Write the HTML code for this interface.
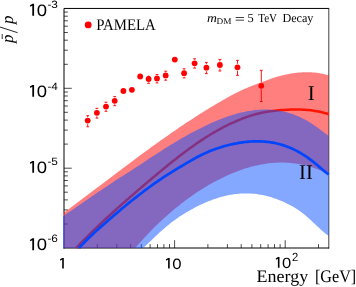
<!DOCTYPE html>
<html><head><meta charset="utf-8"><title>pbar/p</title>
<style>
html,body{margin:0;padding:0;background:#fff;}
body{width:356px;height:287px;overflow:hidden;font-family:"Liberation Sans",sans-serif;}
svg{display:block;will-change:transform;opacity:0.999;}
text{fill:#000;text-rendering:geometricPrecision;}
.sans{font-family:"Liberation Sans",sans-serif;}
.serif{font-family:"Liberation Serif",serif;}
</style></head><body>
<svg width="356" height="287" viewBox="0 0 356 287">
<rect x="0" y="0" width="356" height="287" fill="#fff"/>
<!-- frame -->
<path d="M64.00,248.50V8.45H328.80M63.50,248.00H329.10" fill="none" stroke="#000" stroke-width="1.0"/>
<path d="M328.80,7.95V248.50" fill="none" stroke="#000" stroke-width="0.75"/>
<path d="M97.3,248.0v-3.9M116.8,248.0v-3.9M130.6,248.0v-3.9M141.3,248.0v-3.9M150.1,248.0v-3.9M157.5,248.0v-3.9M163.9,248.0v-3.9M169.5,248.0v-3.9M174.6,248.0v-7.8M207.9,248.0v-3.9M227.4,248.0v-3.9M241.2,248.0v-3.9M251.9,248.0v-3.9M260.7,248.0v-3.9M268.1,248.0v-3.9M274.5,248.0v-3.9M280.1,248.0v-3.9M285.2,248.0v-7.8M318.5,248.0v-3.9M64.0,224.0h3.9M64.0,209.9h3.9M64.0,199.9h3.9M64.0,192.2h3.9M64.0,185.9h3.9M64.0,180.5h3.9M64.0,175.9h3.9M64.0,171.8h3.9M64.0,168.2h7.8M64.0,144.1h3.9M64.0,130.1h3.9M64.0,120.1h3.9M64.0,112.3h3.9M64.0,106.0h3.9M64.0,100.7h3.9M64.0,96.0h3.9M64.0,92.0h3.9M64.0,88.3h7.8M64.0,64.3h3.9M64.0,50.2h3.9M64.0,40.2h3.9M64.0,32.5h3.9M64.0,26.2h3.9M64.0,20.8h3.9M64.0,16.2h3.9M64.0,12.1h3.9" stroke="#000" stroke-width="0.7" fill="none"/>
<!-- bands -->
<path d="M63.5,212.8 L65.5,211.4 L67.5,209.9 L69.5,208.4 L71.5,206.9 L73.5,205.4 L75.5,203.9 L77.5,202.4 L79.5,201.0 L81.4,199.5 L83.4,198.0 L85.4,196.5 L87.4,195.0 L89.4,193.5 L91.4,192.0 L93.4,190.4 L95.4,188.9 L97.4,187.4 L99.4,185.9 L101.4,184.4 L103.4,182.9 L105.4,181.4 L107.4,179.9 L109.4,178.4 L111.4,176.9 L113.3,175.4 L115.3,173.9 L117.3,172.4 L119.3,170.9 L121.3,169.4 L123.3,167.9 L125.3,166.4 L127.3,164.9 L129.3,163.4 L131.3,161.9 L133.3,160.4 L135.3,159.0 L137.3,157.5 L139.3,156.0 L141.3,154.5 L143.3,153.1 L145.3,151.6 L147.2,150.2 L149.2,148.7 L151.2,147.3 L153.2,145.8 L155.2,144.4 L157.2,143.0 L159.2,141.5 L161.2,140.1 L163.2,138.7 L165.2,137.3 L167.2,135.9 L169.2,134.5 L171.2,133.1 L173.2,131.7 L175.2,130.4 L177.2,129.0 L179.2,127.6 L181.1,126.3 L183.1,124.9 L185.1,123.6 L187.1,122.3 L189.1,121.0 L191.1,119.7 L193.1,118.4 L195.1,117.1 L197.1,115.8 L199.1,114.5 L201.1,113.3 L203.1,112.0 L205.1,110.8 L207.1,109.6 L209.1,108.3 L211.1,107.1 L213.0,105.9 L215.0,104.8 L217.0,103.6 L219.0,102.4 L221.0,101.2 L223.0,100.1 L225.0,98.9 L227.0,97.8 L229.0,96.7 L231.0,95.6 L233.0,94.5 L235.0,93.4 L237.0,92.4 L239.0,91.4 L241.0,90.5 L243.0,89.6 L245.0,88.7 L246.9,87.9 L248.9,87.1 L250.9,86.3 L252.9,85.6 L254.9,84.8 L256.9,84.1 L258.9,83.3 L260.9,82.6 L262.9,81.8 L264.9,81.1 L266.9,80.3 L268.9,79.5 L270.9,78.8 L272.9,78.0 L274.9,77.4 L276.9,76.8 L278.9,76.2 L280.8,75.7 L282.8,75.2 L284.8,74.8 L286.8,74.4 L288.8,74.0 L290.8,73.6 L292.8,73.3 L294.8,73.1 L296.8,72.8 L298.8,72.6 L300.8,72.5 L302.8,72.3 L304.8,72.3 L306.8,72.2 L308.8,72.3 L310.8,72.3 L312.7,72.4 L314.7,72.6 L316.7,72.8 L318.7,73.1 L320.7,73.4 L322.7,73.8 L324.7,74.3 L326.7,74.8 L328.7,75.3 L328.7,174.4 L328.7,174.4 L326.7,173.4 L324.7,172.4 L322.7,171.5 L320.7,170.6 L318.7,169.8 L316.7,169.0 L314.7,168.3 L312.7,167.6 L310.7,167.0 L308.8,166.4 L306.8,165.8 L304.8,165.3 L302.8,164.8 L300.8,164.4 L298.8,164.0 L296.8,163.7 L294.8,163.4 L292.8,163.2 L290.8,163.0 L288.8,162.8 L286.8,162.7 L284.8,162.6 L282.8,162.6 L280.8,162.5 L278.8,162.6 L276.8,162.7 L274.8,162.8 L272.8,162.9 L270.8,163.1 L268.9,163.3 L266.9,163.6 L264.9,163.9 L262.9,164.2 L260.9,164.5 L258.9,164.9 L256.9,165.4 L254.9,165.8 L252.9,166.3 L250.9,166.8 L248.9,167.4 L246.9,168.0 L244.9,168.6 L242.9,169.3 L240.9,169.9 L238.9,170.7 L236.9,171.4 L234.9,172.2 L232.9,173.0 L231.0,173.8 L229.0,174.7 L227.0,175.5 L225.0,176.5 L223.0,177.4 L221.0,178.4 L219.0,179.4 L217.0,180.4 L215.0,181.5 L213.0,182.6 L211.0,183.7 L209.0,184.8 L207.0,186.0 L205.0,187.2 L203.0,188.4 L201.0,189.7 L199.0,191.0 L197.0,192.3 L195.0,193.6 L193.1,195.0 L191.1,196.4 L189.1,197.8 L187.1,199.3 L185.1,200.8 L183.1,202.3 L181.1,203.8 L179.1,205.4 L177.1,207.0 L175.1,208.6 L173.1,210.3 L171.1,211.9 L169.1,213.7 L167.1,215.4 L165.1,217.2 L163.1,219.0 L161.1,220.9 L159.1,222.8 L157.1,224.7 L155.1,226.6 L153.2,228.6 L151.2,230.6 L149.2,232.7 L147.2,234.8 L145.2,236.9 L143.2,239.0 L141.2,241.2 L139.2,243.5 L137.2,245.7 L135.2,248.0 L135.2,248.0 L63.5,248.0Z" fill="#ff0000" fill-opacity="0.5"/>
<path d="M76.3,247.9 L78.3,245.8 L80.3,243.7 L82.3,241.7 L84.3,239.6 L86.3,237.6 L88.3,235.6 L90.3,233.6 L92.3,231.7 L94.3,229.7 L96.3,227.8 L98.3,225.9 L100.3,224.0 L102.3,222.1 L104.3,220.2 L106.3,218.3 L108.4,216.5 L110.4,214.6 L112.4,212.8 L114.4,211.0 L116.4,209.2 L118.4,207.4 L120.4,205.6 L122.4,203.8 L124.4,202.1 L126.4,200.3 L128.4,198.6 L130.4,196.8 L132.4,195.1 L134.4,193.4 L136.4,191.6 L138.4,189.9 L140.4,188.2 L142.4,186.5 L144.4,184.8 L146.4,183.1 L148.4,181.4 L150.4,179.7 L152.4,178.0 L154.4,176.4 L156.4,174.7 L158.4,173.0 L160.4,171.4 L162.4,169.7 L164.4,168.1 L166.4,166.4 L168.4,164.8 L170.4,163.2 L172.5,161.6 L174.5,160.0 L176.5,158.4 L178.5,156.8 L180.5,155.3 L182.5,153.8 L184.5,152.2 L186.5,150.8 L188.5,149.3 L190.5,147.8 L192.5,146.4 L194.5,145.0 L196.5,143.6 L198.5,142.2 L200.5,140.9 L202.5,139.6 L204.5,138.3 L206.5,137.0 L208.5,135.8 L210.5,134.5 L212.5,133.3 L214.5,132.2 L216.5,131.0 L218.5,129.9 L220.5,128.8 L222.5,127.7 L224.5,126.7 L226.5,125.7 L228.5,124.7 L230.5,123.7 L232.5,122.8 L234.6,121.8 L236.6,121.0 L238.6,120.1 L240.6,119.3 L242.6,118.5 L244.6,117.8 L246.6,117.0 L248.6,116.4 L250.6,115.7 L252.6,115.1 L254.6,114.5 L256.6,114.0 L258.6,113.5 L260.6,113.0 L262.6,112.6 L264.6,112.2 L266.6,111.8 L268.6,111.5 L270.6,111.2 L272.6,110.9 L274.6,110.7 L276.6,110.5 L278.6,110.3 L280.6,110.1 L282.6,110.0 L284.6,109.9 L286.6,109.8 L288.6,109.7 L290.6,109.6 L292.6,109.6 L294.6,109.6 L296.6,109.6 L298.7,109.6 L300.7,109.6 L302.7,109.7 L304.7,109.8 L306.7,110.0 L308.7,110.1 L310.7,110.3 L312.7,110.6 L314.7,110.9 L316.7,111.2 L318.7,111.6 L320.7,112.0 L322.7,112.4 L324.7,113.0 L326.7,113.5 L328.7,114.2" fill="none" stroke="#ff1400" stroke-width="2.5" stroke-linecap="butt"/>
<path d="M63.5,215.8 L65.5,214.5 L67.5,213.1 L69.5,211.7 L71.5,210.4 L73.5,209.0 L75.5,207.7 L77.5,206.3 L79.5,204.9 L81.4,203.5 L83.4,202.2 L85.4,200.8 L87.4,199.4 L89.4,198.1 L91.4,196.7 L93.4,195.3 L95.4,194.0 L97.4,192.6 L99.4,191.3 L101.4,189.9 L103.4,188.6 L105.4,187.2 L107.4,185.9 L109.4,184.6 L111.4,183.3 L113.3,181.9 L115.3,180.6 L117.3,179.3 L119.3,178.1 L121.3,176.8 L123.3,175.5 L125.3,174.2 L127.3,173.0 L129.3,171.7 L131.3,170.4 L133.3,169.1 L135.3,167.8 L137.3,166.5 L139.3,165.2 L141.3,163.9 L143.3,162.6 L145.3,161.3 L147.2,160.0 L149.2,158.6 L151.2,157.3 L153.2,156.0 L155.2,154.7 L157.2,153.4 L159.2,152.2 L161.2,150.9 L163.2,149.6 L165.2,148.3 L167.2,147.1 L169.2,145.8 L171.2,144.6 L173.2,143.4 L175.2,142.2 L177.2,141.0 L179.2,139.8 L181.1,138.6 L183.1,137.5 L185.1,136.4 L187.1,135.2 L189.1,134.1 L191.1,133.0 L193.1,132.0 L195.1,130.9 L197.1,129.9 L199.1,128.9 L201.1,127.9 L203.1,126.9 L205.1,125.9 L207.1,125.0 L209.1,124.0 L211.1,123.1 L213.0,122.3 L215.0,121.4 L217.0,120.6 L219.0,119.8 L221.0,119.0 L223.0,118.2 L225.0,117.5 L227.0,116.8 L229.0,116.1 L231.0,115.4 L233.0,114.8 L235.0,114.2 L237.0,113.6 L239.0,113.1 L241.0,112.6 L243.0,112.2 L245.0,111.7 L246.9,111.3 L248.9,111.0 L250.9,110.7 L252.9,110.4 L254.9,110.1 L256.9,109.9 L258.9,109.8 L260.9,109.7 L262.9,109.6 L264.9,109.6 L266.9,109.6 L268.9,109.6 L270.9,109.7 L272.9,109.9 L274.9,110.1 L276.9,110.3 L278.9,110.6 L280.8,111.0 L282.8,111.4 L284.8,111.8 L286.8,112.3 L288.8,112.9 L290.8,113.5 L292.8,114.1 L294.8,114.9 L296.8,115.7 L298.8,116.5 L300.8,117.4 L302.8,118.4 L304.8,119.5 L306.8,120.6 L308.8,121.8 L310.8,123.0 L312.7,124.3 L314.7,125.7 L316.7,127.1 L318.7,128.5 L320.7,130.0 L322.7,131.5 L324.7,132.9 L326.7,134.4 L328.7,135.8 L328.7,235.7 L326.7,234.4 L324.7,232.9 L322.7,231.3 L320.7,229.5 L318.7,227.6 L316.7,225.7 L314.7,223.8 L312.7,221.9 L310.7,220.0 L308.7,218.2 L306.7,216.5 L304.7,214.8 L302.7,213.2 L300.7,211.7 L298.7,210.3 L296.8,209.0 L294.8,207.7 L292.8,206.6 L290.8,205.5 L288.8,204.4 L286.8,203.4 L284.8,202.5 L282.8,201.6 L280.8,200.7 L278.8,199.9 L276.8,199.1 L274.8,198.4 L272.8,197.7 L270.8,197.1 L268.8,196.5 L266.8,196.0 L264.8,195.5 L262.8,195.1 L260.8,194.7 L258.8,194.4 L256.8,194.1 L254.8,193.8 L252.8,193.7 L250.8,193.5 L248.8,193.4 L246.8,193.4 L244.8,193.4 L242.8,193.5 L240.8,193.6 L238.8,193.7 L236.8,193.9 L234.9,194.1 L232.9,194.4 L230.9,194.8 L228.9,195.1 L226.9,195.6 L224.9,196.0 L222.9,196.5 L220.9,197.1 L218.9,197.6 L216.9,198.3 L214.9,198.9 L212.9,199.6 L210.9,200.4 L208.9,201.1 L206.9,202.0 L204.9,202.8 L202.9,203.7 L200.9,204.6 L198.9,205.6 L196.9,206.6 L194.9,207.6 L192.9,208.7 L190.9,209.8 L188.9,210.9 L186.9,212.1 L184.9,213.3 L182.9,214.5 L180.9,215.8 L178.9,217.1 L176.9,218.5 L174.9,219.9 L173.0,221.3 L171.0,222.8 L169.0,224.4 L167.0,226.0 L165.0,227.7 L163.0,229.4 L161.0,231.2 L159.0,233.1 L157.0,234.9 L155.0,236.8 L153.0,238.8 L151.0,240.7 L149.0,242.5 L147.0,244.4 L145.0,246.2 L143.0,247.9 L143.0,248.0 L63.5,248.0Z" fill="#0a50ff" fill-opacity="0.5"/>
<path d="M79.0,248.1 L81.0,245.9 L83.0,243.9 L85.0,241.8 L87.0,239.8 L89.0,237.8 L91.0,235.9 L93.0,234.0 L95.0,232.1 L97.0,230.3 L99.0,228.5 L101.0,226.7 L103.0,224.9 L105.0,223.2 L107.0,221.4 L109.0,219.7 L111.0,218.0 L113.0,216.2 L115.0,214.5 L117.0,212.9 L119.0,211.2 L120.9,209.5 L122.9,207.8 L124.9,206.2 L126.9,204.5 L128.9,202.9 L130.9,201.3 L132.9,199.7 L134.9,198.1 L136.9,196.6 L138.9,195.0 L140.9,193.5 L142.9,192.0 L144.9,190.4 L146.9,189.0 L148.9,187.5 L150.9,186.0 L152.9,184.6 L154.9,183.2 L156.9,181.8 L158.9,180.4 L160.9,179.1 L162.9,177.7 L164.9,176.4 L166.9,175.1 L168.9,173.9 L170.9,172.6 L172.9,171.4 L174.9,170.1 L176.9,168.9 L178.9,167.7 L180.9,166.5 L182.9,165.3 L184.9,164.1 L186.9,162.9 L188.9,161.8 L190.9,160.6 L192.9,159.5 L194.9,158.4 L196.9,157.3 L198.9,156.3 L200.9,155.3 L202.9,154.3 L204.8,153.4 L206.8,152.5 L208.8,151.6 L210.8,150.8 L212.8,150.0 L214.8,149.3 L216.8,148.6 L218.8,147.9 L220.8,147.2 L222.8,146.6 L224.8,146.0 L226.8,145.5 L228.8,145.0 L230.8,144.5 L232.8,144.1 L234.8,143.6 L236.8,143.3 L238.8,142.9 L240.8,142.6 L242.8,142.3 L244.8,142.0 L246.8,141.8 L248.8,141.6 L250.8,141.5 L252.8,141.4 L254.8,141.3 L256.8,141.3 L258.8,141.3 L260.8,141.4 L262.8,141.5 L264.8,141.6 L266.8,141.8 L268.8,142.0 L270.8,142.3 L272.8,142.6 L274.8,143.0 L276.8,143.5 L278.8,144.0 L280.8,144.5 L282.8,145.1 L284.8,145.7 L286.8,146.5 L288.7,147.2 L290.7,148.0 L292.7,148.9 L294.7,149.9 L296.7,150.9 L298.7,152.0 L300.7,153.1 L302.7,154.3 L304.7,155.6 L306.7,156.9 L308.7,158.3 L310.7,159.8 L312.7,161.3 L314.7,163.0 L316.7,164.6 L318.7,166.4 L320.7,168.1 L322.7,169.8 L324.7,171.4 L326.7,173.0 L328.7,174.4" fill="none" stroke="#0046ff" stroke-width="2.7" stroke-linecap="butt"/>
<path d="M63.5,216V247.5" stroke="#4a68e0" stroke-width="1" fill="none"/>
<path d="M63.6,212.8V216" stroke="#e8707c" stroke-width="1.1" fill="none"/>
<!-- data -->
<path d="M86.3,115.7H89.1M87.7,115.7V117.1M87.7,124.1V126.8M86.3,126.8H89.1" stroke="#ff0000" stroke-width="0.9" fill="none"/>
<circle cx="87.7" cy="120.6" r="2.9" fill="#ff0000"/>
<path d="M95.5,108.3H98.3M96.9,108.3V109.3M96.9,116.3V118.1M95.5,118.1H98.3" stroke="#ff0000" stroke-width="0.9" fill="none"/>
<circle cx="96.9" cy="112.8" r="2.9" fill="#ff0000"/>
<path d="M104.6,102.2H107.4M106.0,102.2V103.1M106.0,110.1V111.3M104.6,111.3H107.4" stroke="#ff0000" stroke-width="0.9" fill="none"/>
<circle cx="106.0" cy="106.6" r="2.9" fill="#ff0000"/>
<path d="M113.3,96.6H116.1M114.7,96.6V97.3M114.7,104.3V105.7M113.3,105.7H116.1" stroke="#ff0000" stroke-width="0.9" fill="none"/>
<circle cx="114.7" cy="100.8" r="2.9" fill="#ff0000"/>
<circle cx="123.4" cy="91.0" r="2.9" fill="#ff0000"/>
<circle cx="131.9" cy="89.8" r="2.9" fill="#ff0000"/>
<circle cx="140.2" cy="76.5" r="2.9" fill="#ff0000"/>
<path d="M147.2,76.6H150.0M148.6,76.6V75.5M148.6,82.5V83.3M147.2,83.3H150.0" stroke="#ff0000" stroke-width="0.9" fill="none"/>
<circle cx="148.6" cy="79.0" r="2.9" fill="#ff0000"/>
<path d="M155.6,74.5H158.4M157.0,74.5V75.0M157.0,82.0V82.9M155.6,82.9H158.4" stroke="#ff0000" stroke-width="0.9" fill="none"/>
<circle cx="157.0" cy="78.5" r="2.9" fill="#ff0000"/>
<path d="M164.3,71.2H167.1M165.7,71.2V71.9M165.7,78.9V80.2M164.3,80.2H167.1" stroke="#ff0000" stroke-width="0.9" fill="none"/>
<circle cx="165.7" cy="75.4" r="2.9" fill="#ff0000"/>
<circle cx="174.8" cy="59.6" r="2.9" fill="#ff0000"/>
<path d="M182.7,68.8H185.5M184.1,68.8V69.7M184.1,76.7V77.9M182.7,77.9H185.5" stroke="#ff0000" stroke-width="0.9" fill="none"/>
<circle cx="184.1" cy="73.2" r="2.9" fill="#ff0000"/>
<path d="M193.2,58.8H196.0M194.6,58.8V59.8M194.6,66.8V68.1M193.2,68.1H196.0" stroke="#ff0000" stroke-width="0.9" fill="none"/>
<circle cx="194.6" cy="63.3" r="2.9" fill="#ff0000"/>
<path d="M205.0,62.4H207.8M206.4,62.4V64.2M206.4,71.2V73.6M205.0,73.6H207.8" stroke="#ff0000" stroke-width="0.9" fill="none"/>
<circle cx="206.4" cy="67.7" r="2.9" fill="#ff0000"/>
<path d="M218.5,59.4H221.3M219.9,59.4V61.5M219.9,68.5V71.0M218.5,71.0H221.3" stroke="#ff0000" stroke-width="0.9" fill="none"/>
<circle cx="219.9" cy="65.0" r="2.9" fill="#ff0000"/>
<path d="M236.1,60.4H238.9M237.5,60.4V63.8M237.5,70.8V75.4M236.1,75.4H238.9" stroke="#ff0000" stroke-width="0.9" fill="none"/>
<circle cx="237.5" cy="67.3" r="2.9" fill="#ff0000"/>
<path d="M259.9,70.3H262.7M261.3,70.3V82.3M261.3,89.3V101.5M259.9,101.5H262.7" stroke="#ff0000" stroke-width="0.9" fill="none"/>
<circle cx="261.3" cy="85.8" r="2.9" fill="#ff0000"/>
<!-- legend -->
<circle cx="88.2" cy="24.9" r="3.4" fill="#ff0000"/>
<text class="serif" x="96.2" y="29.9" font-size="16.2" textLength="59.6" lengthAdjust="spacingAndGlyphs">PAMELA</text>
<!-- title -->
<text class="serif" x="207" y="21.6" font-size="12.4" font-style="italic" textLength="9.9" lengthAdjust="spacingAndGlyphs">m</text>
<text class="serif" x="216.6" y="23.5" font-size="8.8" textLength="14.9" lengthAdjust="spacingAndGlyphs">DM</text>
<text class="serif" x="234.8" y="22.8" font-size="12.5" textLength="10.2" lengthAdjust="spacingAndGlyphs">=</text>
<text class="serif" x="247.4" y="21.6" font-size="12.4">5</text>
<text class="serif" x="258.2" y="21.6" font-size="12.4" textLength="18.9" lengthAdjust="spacingAndGlyphs">TeV</text>
<text class="serif" x="282.4" y="21.6" font-size="12.4" textLength="31.0" lengthAdjust="spacingAndGlyphs">Decay</text>
<!-- curve labels -->
<text class="serif" x="307.7" y="100.2" font-size="21">I</text>
<text class="serif" x="299" y="179" font-size="21" textLength="13.8" lengthAdjust="spacingAndGlyphs">II</text>
<!-- y tick labels -->
<path d="M34.08,15.70 L34.08,3.85 L32.42,3.85 L29.87,5.45 L30.34,6.87 L32.30,5.63 L32.30,15.70Z" fill="#000"/><text class="sans" transform="translate(36.84,15.70) scale(1.120,1)" x="0" y="0" font-size="16.55">0</text>
<text class="sans" x="47.4" y="7.9" font-size="10.6" textLength="10.5" lengthAdjust="spacingAndGlyphs">-3</text>
<path d="M34.08,96.80 L34.08,84.95 L32.42,84.95 L29.87,86.55 L30.34,87.97 L32.30,86.73 L32.30,96.80Z" fill="#000"/><text class="sans" transform="translate(36.84,96.80) scale(1.120,1)" x="0" y="0" font-size="16.55">0</text>
<text class="sans" x="47.4" y="89.7" font-size="10.6" textLength="10.5" lengthAdjust="spacingAndGlyphs">-4</text>
<path d="M34.08,172.80 L34.08,160.95 L32.42,160.95 L29.87,162.55 L30.34,163.97 L32.30,162.73 L32.30,172.80Z" fill="#000"/><text class="sans" transform="translate(36.84,172.80) scale(1.120,1)" x="0" y="0" font-size="16.55">0</text>
<text class="sans" x="47.4" y="165.2" font-size="10.6" textLength="10.5" lengthAdjust="spacingAndGlyphs">-5</text>
<path d="M34.08,250.20 L34.08,238.35 L32.42,238.35 L29.87,239.95 L30.34,241.37 L32.30,240.13 L32.30,250.20Z" fill="#000"/><text class="sans" transform="translate(36.84,250.20) scale(1.120,1)" x="0" y="0" font-size="16.55">0</text>
<text class="sans" x="47.4" y="242.4" font-size="10.6" textLength="10.5" lengthAdjust="spacingAndGlyphs">-6</text>
<!-- x tick labels -->
<path d="M63.80,268.60 L63.80,257.90 L62.31,257.90 L60.01,259.34 L60.43,260.63 L62.20,259.51 L62.20,268.60Z" fill="#000"/>
<path d="M169.70,268.60 L169.70,257.90 L168.21,257.90 L165.91,259.34 L166.33,260.63 L168.10,259.51 L168.10,268.60Z" fill="#000"/><text class="sans" transform="translate(172.20,268.60) scale(1.120,1)" x="0" y="0" font-size="14.94">0</text>
<path d="M279.49,267.70 L279.49,257.10 L278.01,257.10 L275.73,258.53 L276.15,259.80 L277.90,258.69 L277.90,267.70Z" fill="#000"/><text class="sans" transform="translate(281.96,267.70) scale(1.120,1)" x="0" y="0" font-size="14.80">0</text>
<text class="sans" x="291.9" y="261.4" font-size="11.8" textLength="6.2" lengthAdjust="spacingAndGlyphs">2</text>
<!-- axis titles -->
<text class="serif" x="256.6" y="282.4" font-size="17.6" textLength="51.6" lengthAdjust="spacingAndGlyphs">Energy</text>
<text class="serif" x="315.0" y="282.4" font-size="17.6" textLength="41.2" lengthAdjust="spacingAndGlyphs">[GeV]</text>
<g transform="translate(12.7,43.6) rotate(-90)" class="serif" font-style="italic" font-size="17">
<text x="0.7" y="0">p</text>
<path d="M4.6,-10.5H9.6" stroke="#000" stroke-width="0.8" fill="none"/>
<path d="M10.9,4.9L16.8,-13.4" stroke="#000" stroke-width="0.85" fill="none"/>
<text x="19.7" y="0">p</text>
</g>
</svg>
</body></html>
